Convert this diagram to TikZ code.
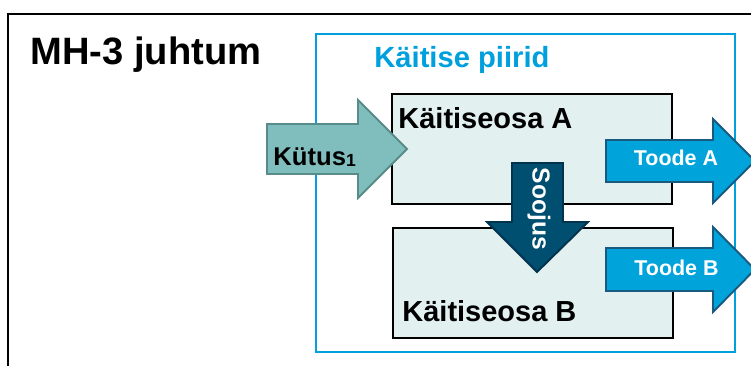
\documentclass[tikz,border=0pt]{standalone}
\usepackage{fontspec}
\setmainfont{Liberation Sans}
\usepackage{tikz}
\usetikzlibrary{positioning}
\usepackage{xcolor}
\definecolor{piirblue}{RGB}{0,160,220}
\definecolor{osafill}{RGB}{226,240,240}
\definecolor{kytusfill}{RGB}{127,190,188}
\definecolor{kytusline}{RGB}{88,140,138}
\definecolor{toodefill}{RGB}{0,163,218}
\definecolor{toodeline}{RGB}{25,90,128}
\definecolor{soojfill}{RGB}{0,78,112}
\definecolor{soojline}{RGB}{0,52,78}
\tikzstyle{osa} = [draw=black, line width=1.1pt, fill=osafill, minimum width=5.6cm, minimum height=2.2cm, inner sep=0pt]
\tikzstyle{blockarrow} = [line width=1.1pt, line join=miter]
\tikzstyle{whitelabel} = [text=white, font=\bfseries\fontsize{12.2}{14}\selectfont, inner sep=0pt]

\begin{document}
\begin{tikzpicture}
\useasboundingbox (0,0) rectangle (15.02,7.30);
\clip (0,0) rectangle (15.02,7.30);

% Outer frame
\draw[line width=1.2pt] (0.16,-1) rectangle (16,7.02);
\node[anchor=base west, inner sep=0pt, font=\bfseries\fontsize{21.7}{26}\selectfont] (title) at (0.60,6.0) {MH-3 juhtum};

% Plant boundary and the two sections
\node[draw=piirblue, line width=1.1pt, minimum width=8.38cm, minimum height=6.36cm, inner sep=0pt] (piir) at (10.51,3.44) {};
\node[osa] (osaA) at (10.64,4.32) {};
\node[osa] (osaB) at (10.66,1.64) {};

\node[anchor=base west, inner sep=0pt, text=piirblue, font=\bfseries\fontsize{16.6}{20}\selectfont] (piirlabel) at ([xshift=1.18cm, yshift=-0.68cm]piir.north west) {Käitise piirid};
\node[anchor=base west, inner sep=0pt, font=\bfseries\fontsize{16.5}{20}\selectfont] (osaAlabel) at ([xshift=0.14cm, yshift=-0.70cm]osaA.north west) {Käitiseosa A};
\node[anchor=base west, inner sep=0pt, font=\bfseries\fontsize{16.5}{20}\selectfont] (osaBlabel) at ([xshift=0.20cm, yshift=0.34cm]osaB.south west) {Käitiseosa B};

% Fuel in
\draw[blockarrow, draw=kytusline, fill=kytusfill] (5.34,4.82) -- (7.16,4.82) -- (7.16,5.30) -- (8.14,4.32) -- (7.16,3.34) -- (7.16,3.82) -- (5.34,3.82) -- cycle;
\node[anchor=base west, inner sep=0pt, font=\bfseries\fontsize{14.6}{17}\selectfont] (kytus) at (5.46,4.0) {Kütus\raisebox{-1pt}{\fontsize{10}{12}\selectfont 1}};

% Heat from A to B
\draw[blockarrow, draw=soojline, fill=soojfill] (10.24,4.04) -- (11.26,4.04) -- (11.26,2.86) -- (11.76,2.86) -- (10.74,1.86) -- (9.74,2.86) -- (10.24,2.86) -- cycle;
\node[rotate=-90, inner sep=0pt, text=white, font=\bfseries\fontsize{14}{17}\selectfont] (soojus) at (10.78,3.12) {Soojus};

% Products out
\draw[blockarrow, draw=toodeline, fill=toodefill] (12.12,4.50) -- (14.26,4.50) -- (14.26,4.92) -- (15.10,4.08) -- (14.26,3.24) -- (14.26,3.66) -- (12.12,3.66) -- cycle;
\draw[blockarrow, draw=toodeline, fill=toodefill] (12.12,2.34) -- (14.26,2.34) -- (14.26,2.76) -- (15.10,1.91) -- (14.26,1.06) -- (14.26,1.48) -- (12.12,1.48) -- cycle;
\node[whitelabel, anchor=base] (toodeA) at (13.52,4.0) {Toode A};
\node[whitelabel, anchor=base] (toodeB) at (13.53,1.79) {Toode B};
\end{tikzpicture}
\end{document}
